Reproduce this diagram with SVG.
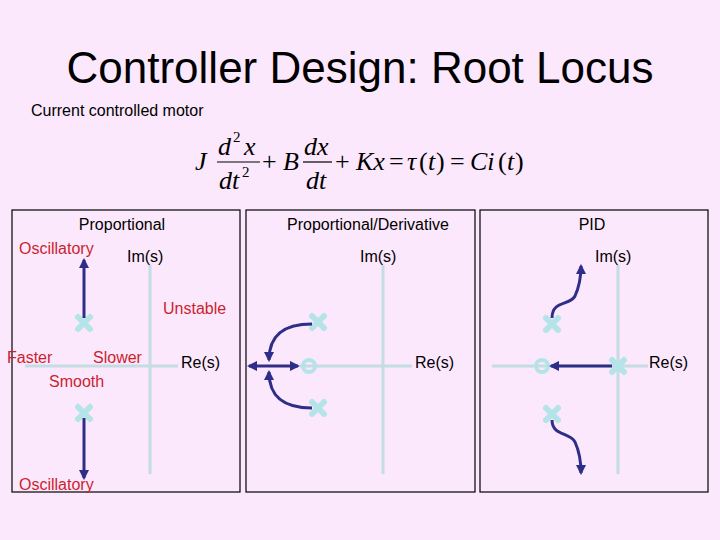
<svg xmlns="http://www.w3.org/2000/svg" width="720" height="540" viewBox="0 0 720 540">
<defs>
<style>
.t{font-family:"Liberation Sans",Arial,sans-serif;font-size:16px;fill:#000}
.r{font-family:"Liberation Sans",Arial,sans-serif;font-size:16px;fill:#cc1e2e}
.m{font-family:"Liberation Serif","Times New Roman",serif;font-size:26px;font-style:italic;fill:#000}
.mu{font-family:"Liberation Serif","Times New Roman",serif;font-size:26px;fill:#000}
.ax{stroke:#c4dce4;stroke-width:3;fill:none}
.panel{fill:none;stroke:#000;stroke-width:1.2}
.loc{stroke:#2e2e88;stroke-width:3;fill:none}
.pole{stroke:#b4e4e8;stroke-width:6;stroke-linecap:round}
.zero{fill:none;stroke:#b4e4e8;stroke-width:4}
</style>
<marker id="ah" viewBox="0 0 10 10" refX="8" refY="5" markerWidth="3.5" markerHeight="3.5" orient="auto"><path d="M0,0L10,5L0,10z" fill="#2e2e88"/></marker>
<symbol id="x" viewBox="-10 -10 20 20" overflow="visible"><path class="pole" d="M-6,-6L6,6M-6,6L6,-6"/></symbol>
</defs>
<rect width="720" height="540" fill="#fce8fc"/>
<text x="360" y="83" text-anchor="middle" style="font-family:'Liberation Sans',Arial,sans-serif;font-size:44px">Controller Design: Root Locus</text>
<text x="31" y="116" class="t">Current controlled motor</text>
<g id="equation">
<text x="195" y="170" class="m">J</text>
<text x="218" y="155" class="m">d</text><text x="233" y="142" class="mu" style="font-size:15px">2</text><text x="244" y="155" class="m">x</text>
<line x1="217" y1="162" x2="260" y2="162" stroke="#000" stroke-width="1.2"/>
<text x="219" y="189" class="m">dt</text><text x="242" y="177" class="mu" style="font-size:15px">2</text>
<text x="262" y="170" class="mu">+</text>
<text x="283" y="170" class="m">B</text>
<text x="304" y="155" class="m">dx</text>
<line x1="303" y1="162" x2="332" y2="162" stroke="#000" stroke-width="1.2"/>
<text x="306" y="189" class="m">dt</text>
<text x="335" y="170" class="mu">+</text><text x="356" y="170" class="m">Kx</text><text x="389" y="170" class="mu">=</text>
<text x="407" y="170" class="m">τ</text><text x="419" y="170" class="mu">(</text><text x="428" y="170" class="m">t</text><text x="436" y="170" class="mu">)</text>
<text x="450" y="170" class="mu">=</text><text x="470" y="170" class="m">Ci</text><text x="498" y="170" class="mu">(</text><text x="507" y="170" class="m">t</text><text x="515" y="170" class="mu">)</text>
</g>
<g id="panel-p">
<rect class="panel" x="12" y="210" width="228" height="282"/>
<line class="ax" x1="150" y1="265" x2="150" y2="474"/>
<line class="ax" x1="25" y1="366" x2="178" y2="366"/>
<text x="122" y="230" class="t" text-anchor="middle">Proportional</text>
<text x="19" y="254" class="r">Oscillatory</text>
<text x="127" y="262" class="t">Im(s)</text>
<text x="163" y="314" class="r">Unstable</text>
<text x="7" y="363" class="r">Faster</text>
<text x="93" y="363" class="r">Slower</text>
<text x="49" y="387" class="r">Smooth</text>
<text x="181" y="368" class="t">Re(s)</text>
<text x="19" y="490" class="r">Oscillatory</text>
<use href="#x" x="74" y="313" width="20" height="20"/>
<use href="#x" x="74" y="403" width="20" height="20"/>
</g>
<g id="panel-pd">
<rect class="panel" x="246" y="210" width="229" height="282"/>
<line class="ax" x1="383" y1="265" x2="383" y2="474"/>
<line class="ax" x1="300" y1="366" x2="412" y2="366"/>
<text x="368" y="230" class="t" text-anchor="middle">Proportional/Derivative</text>
<text x="360" y="262" class="t">Im(s)</text>
<text x="415" y="368" class="t">Re(s)</text>
<circle class="zero" cx="309" cy="366" r="6"/>
<use href="#x" x="308" y="312" width="20" height="20"/>
<use href="#x" x="308" y="398" width="20" height="20"/>
</g>
<g id="panel-pid">
<rect class="panel" x="480" y="210" width="228" height="282"/>
<line class="ax" x1="618" y1="265" x2="618" y2="474"/>
<line class="ax" x1="492" y1="366" x2="648" y2="366"/>
<text x="592" y="230" class="t" text-anchor="middle">PID</text>
<text x="595" y="262" class="t">Im(s)</text>
<text x="649" y="368" class="t">Re(s)</text>
<circle class="zero" cx="542" cy="366" r="6"/>
<use href="#x" x="542" y="314" width="20" height="20"/>
<use href="#x" x="542" y="404" width="20" height="20"/>
<use href="#x" x="608" y="356" width="20" height="20"/>
</g>
<g id="connectors">
<line class="loc" x1="84" y1="318" x2="84" y2="260" marker-end="url(#ah)"/>
<line class="loc" x1="84" y1="418" x2="84" y2="478" marker-end="url(#ah)"/>
<path class="loc" d="M312,324 C285,324 269,334 269,360" marker-end="url(#ah)"/>
<path class="loc" d="M312,408 C285,408 269,398 269,372" marker-end="url(#ah)"/>
<line class="loc" x1="269" y1="366" x2="249" y2="366" marker-end="url(#ah)"/>
<line class="loc" x1="269" y1="366" x2="298" y2="366" marker-end="url(#ah)"/>
<line class="loc" x1="612" y1="366" x2="551" y2="366" marker-end="url(#ah)"/>
<path class="loc" d="M552,318 C552,300 570,306 575,296 C580,285 581,275 581,266" marker-end="url(#ah)"/>
<path class="loc" d="M552,420 C552,436 570,432 575,442 C580,453 581,463 581,473" marker-end="url(#ah)"/>
</g>
</svg>
